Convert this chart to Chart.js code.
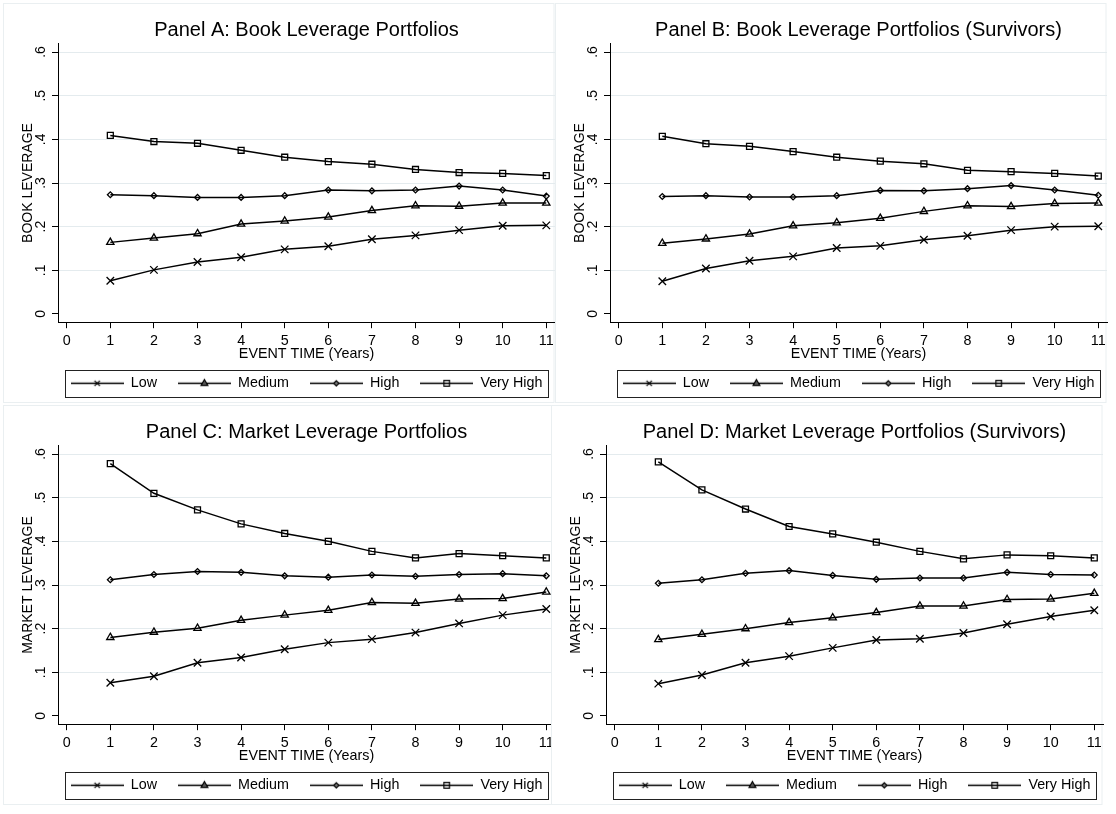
<!DOCTYPE html>
<html>
<head>
<meta charset="utf-8">
<title>Leverage portfolios in event time</title>
<script src="https://cdn.jsdelivr.net/npm/chart.js@4.4.1/dist/chart.umd.min.js"></script>
<style>
  html, body { margin: 0; padding: 0; background: #fff; }
  #fig { position: relative; width: 1116px; height: 814px; overflow: hidden; background: #fff; }
  .panel { position: absolute; height: 405px; overflow: hidden; }
  .panel canvas { display: block; }
</style>
</head>
<body>
<div id="fig">
  <div class="panel" style="left:0px;top:0px;width:556px"><canvas id="cA" width="556" height="405"></canvas></div>
  <div class="panel" style="left:0px;top:402px;width:551px"><canvas id="cC" width="556" height="405"></canvas></div>
  <div class="panel" style="left:552px;top:0px;width:556px"><canvas id="cB" width="556" height="405"></canvas></div>
  <div class="panel" style="left:548px;top:402px;width:556px"><canvas id="cD" width="556" height="405"></canvas></div>
</div>
<script>
// ---- data -------------------------------------------------------------
const years = [1, 2, 3, 4, 5, 6, 7, 8, 9, 10, 11];
const seriesNames = ['Low', 'Medium', 'High', 'Very High'];
const xTickValues = [0, 1, 2, 3, 4, 5, 6, 7, 8, 9, 10, 11];
const yTickValues = [0, 0.1, 0.2, 0.3, 0.4, 0.5, 0.6];
const yTickLabels = ['0', '.1', '.2', '.3', '.4', '.5', '.6'];
const xAxisTitle = 'EVENT TIME (Years)';

// Panel A: book leverage portfolios
const bookLow      = [0.076, 0.101, 0.119, 0.130, 0.148, 0.155, 0.171, 0.180, 0.192, 0.202, 0.203];
const bookMedium   = [0.164, 0.174, 0.184, 0.206, 0.213, 0.222, 0.237, 0.248, 0.247, 0.254, 0.254];
const bookHigh     = [0.273, 0.271, 0.267, 0.267, 0.271, 0.284, 0.282, 0.284, 0.293, 0.284, 0.270];
const bookVeryHigh = [0.409, 0.395, 0.391, 0.375, 0.359, 0.349, 0.343, 0.331, 0.324, 0.322, 0.317];

// Panel B: book leverage portfolios, survivors
const bookSurvLow      = [0.075, 0.104, 0.122, 0.132, 0.151, 0.156, 0.170, 0.179, 0.192, 0.200, 0.201];
const bookSurvMedium   = [0.162, 0.172, 0.183, 0.202, 0.209, 0.219, 0.235, 0.248, 0.246, 0.253, 0.254];
const bookSurvHigh     = [0.269, 0.271, 0.268, 0.268, 0.271, 0.283, 0.282, 0.287, 0.294, 0.284, 0.272];
const bookSurvVeryHigh = [0.407, 0.390, 0.384, 0.372, 0.359, 0.350, 0.344, 0.329, 0.326, 0.322, 0.316];

// Panel C: market leverage portfolios
const mktLow      = [0.076, 0.091, 0.122, 0.134, 0.153, 0.168, 0.176, 0.191, 0.212, 0.231, 0.245];
const mktMedium   = [0.180, 0.192, 0.201, 0.219, 0.231, 0.242, 0.260, 0.258, 0.268, 0.269, 0.284];
const mktHigh     = [0.312, 0.324, 0.331, 0.329, 0.321, 0.318, 0.323, 0.320, 0.324, 0.326, 0.321];
const mktVeryHigh = [0.578, 0.510, 0.472, 0.440, 0.418, 0.400, 0.377, 0.362, 0.372, 0.367, 0.362];

// Panel D: market leverage portfolios, survivors
const mktSurvLow      = [0.074, 0.094, 0.122, 0.137, 0.156, 0.174, 0.177, 0.190, 0.210, 0.228, 0.242];
const mktSurvMedium   = [0.175, 0.187, 0.200, 0.214, 0.225, 0.237, 0.252, 0.252, 0.267, 0.268, 0.281];
const mktSurvHigh     = [0.304, 0.312, 0.327, 0.333, 0.322, 0.313, 0.316, 0.316, 0.329, 0.324, 0.323];
const mktSurvVeryHigh = [0.582, 0.518, 0.474, 0.434, 0.417, 0.398, 0.377, 0.360, 0.369, 0.367, 0.362];

// ---- styling ----------------------------------------------------------
const FONT = "'Liberation Sans', Arial, Helvetica, sans-serif";
const INK = '#000';
const GRID = '#e4ebee';
const markerStyles = ['crossRot', 'triangle', 'rectRot', 'rect'];
const markerRadii = [5.3, 4.2, 2.9, 4.2];
const LEGEND_GAP = '    '; // spacing after each legend entry except the last

// Small legend swatch: a line segment with the series marker in the middle
function legendSwatch(kind) {
  const w = 53, h = 15, cx = 26.5, cy = 7.5;
  const c = document.createElement('canvas');
  c.width = w; c.height = h;
  const g = c.getContext('2d');
  g.strokeStyle = INK; g.lineWidth = 1.4;
  g.beginPath(); g.moveTo(0, cy); g.lineTo(w, cy); g.stroke();
  g.lineWidth = 1.2;
  g.beginPath();
  if (kind === 'crossRot') {
    const s = 2.7;
    g.moveTo(cx - s, cy - s); g.lineTo(cx + s, cy + s);
    g.moveTo(cx - s, cy + s); g.lineTo(cx + s, cy - s);
    g.stroke();
  } else if (kind === 'triangle') {
    g.moveTo(cx, cy - 3.8); g.lineTo(cx + 3.4, cy + 2.2); g.lineTo(cx - 3.4, cy + 2.2); g.closePath();
    g.fillStyle = '#555'; g.fill(); g.stroke();
  } else if (kind === 'rectRot') {
    g.moveTo(cx, cy - 2.6); g.lineTo(cx + 2.6, cy); g.lineTo(cx, cy + 2.6); g.lineTo(cx - 2.6, cy); g.closePath();
    g.fillStyle = '#777'; g.fill(); g.stroke();
  } else {
    g.rect(cx - 2.8, cy - 2.8, 5.6, 5.6); g.stroke();
  }
  return c;
}
const legendSwatches = markerStyles.map(legendSwatch);

// Faint outline of each graph region
const panelFrame = {
  id: 'panelFrame',
  beforeDraw(chart) {
    const ctx = chart.ctx;
    ctx.save();
    ctx.strokeStyle = '#eaeff1';
    ctx.lineWidth = 1;
    ctx.strokeRect(3.5, 3.5, 550.5, 399);
    ctx.restore();
  }
};

// Box drawn around the legend entries
const legendFrame = {
  id: 'legendFrame',
  afterDraw(chart) {
    const lg = chart.legend;
    if (!lg || !lg.legendHitBoxes || !lg.legendHitBoxes.length) return;
    const hb = lg.legendHitBoxes;
    const first = hb[0], last = hb[hb.length - 1];
    const left = Math.round(first.left - 5.5) + 0.5;
    const right = Math.round(last.left + last.width + 6) + 0.5;
    const cy = first.top + first.height / 2;
    const top = Math.round(cy - 13.5) + 0.5;
    const bottom = Math.round(cy + 13.5) + 0.5;
    const ctx = chart.ctx;
    ctx.save();
    ctx.strokeStyle = '#222';
    ctx.lineWidth = 1;
    ctx.strokeRect(left, top, right - left, bottom - top);
    ctx.restore();
  }
};

function makePanel(canvasId, title, yTitle, series) {
  const datasets = series.map((vals, i) => ({
    label: seriesNames[i],
    data: years.map((x, k) => ({ x: x, y: vals[k] })),
    borderColor: INK,
    borderWidth: 1.5,
    backgroundColor: 'rgba(0,0,0,0)',
    fill: false,
    tension: 0,
    pointStyle: markerStyles[i],
    pointRadius: markerRadii[i],
    pointHoverRadius: markerRadii[i],
    pointBorderColor: INK,
    pointBackgroundColor: 'rgba(0,0,0,0)',
    pointBorderWidth: 1.3,
    clip: false
  }));

  return new Chart(document.getElementById(canvasId), {
    type: 'line',
    data: { datasets },
    plugins: [panelFrame, legendFrame],
    options: {
      responsive: false,
      animation: false,
      events: [],
      devicePixelRatio: 1,
      layout: { autoPadding: false, padding: { top: 0, left: 0, right: 1, bottom: 4.55 } },
      scales: {
        x: {
          type: 'linear',
          min: -0.2,
          max: 11.2,
          afterBuildTicks: s => { s.ticks = xTickValues.map(v => ({ value: v })); },
          afterFit: s => { s.height = 48.45; s.paddingLeft = 0; s.paddingRight = 0; },
          ticks: {
            autoSkip: false, minRotation: 0, maxRotation: 0, padding: 3.9,
            color: INK, font: { family: FONT, size: 14.3 },
            callback: (v, i) => String(xTickValues[i])
          },
          grid: { drawOnChartArea: false, drawTicks: true, tickLength: 5.5, tickColor: INK, tickWidth: 1 },
          border: { display: true, color: INK, width: 1 },
          title: {
            display: true, text: xAxisTitle, color: INK,
            font: { family: FONT, size: 14.3 }, padding: { top: 0, bottom: 8.2 }
          }
        },
        y: {
          type: 'linear',
          min: -0.02,
          max: 0.62,
          afterBuildTicks: s => { s.ticks = yTickValues.map(v => ({ value: v })); },
          afterFit: s => { s.width = 58; s.paddingTop = 0; s.paddingBottom = 0; },
          ticks: {
            autoSkip: false, minRotation: 90, maxRotation: 90, crossAlign: 'center', padding: 5.2,
            color: INK, font: { family: FONT, size: 14 },
            callback: (v, i) => yTickLabels[i]
          },
          grid: {
            drawOnChartArea: true, drawTicks: true, tickLength: 6, tickColor: INK, tickWidth: 1,
            lineWidth: 1,
            color: c => (c.tick && c.tick.value === 0) ? 'rgba(0,0,0,0)' : GRID
          },
          border: { display: true, color: INK, width: 1 },
          title: {
            display: true, text: yTitle, color: INK,
            font: { family: FONT, size: 14 }, padding: { top: 19.8, bottom: 0 }
          }
        }
      },
      plugins: {
        tooltip: { enabled: false },
        title: {
          display: true, text: title, color: INK, fullSize: false,
          font: { family: FONT, size: 20, weight: 'normal' },
          padding: { top: 18.3, bottom: 1.0 }
        },
        legend: {
          display: true, position: 'bottom', align: 'center', fullSize: false,
          labels: {
            usePointStyle: true, pointStyleWidth: 53, padding: 5,
            color: INK, font: { family: FONT, size: 14.3 },
            generateLabels: chart => chart.data.datasets.map((ds, i, all) => ({
              text: i < all.length - 1 ? ds.label + LEGEND_GAP : ds.label,
              datasetIndex: i,
              pointStyle: legendSwatches[i],
              fillStyle: 'rgba(0,0,0,0)',
              strokeStyle: INK,
              lineWidth: 0,
              fontColor: INK,
              hidden: false
            }))
          }
        }
      }
    }
  });
}

makePanel('cA', 'Panel A: Book Leverage Portfolios', 'BOOK LEVERAGE',
  [bookLow, bookMedium, bookHigh, bookVeryHigh]);
makePanel('cB', 'Panel B: Book Leverage Portfolios (Survivors)', 'BOOK LEVERAGE',
  [bookSurvLow, bookSurvMedium, bookSurvHigh, bookSurvVeryHigh]);
makePanel('cC', 'Panel C: Market Leverage Portfolios', 'MARKET LEVERAGE',
  [mktLow, mktMedium, mktHigh, mktVeryHigh]);
makePanel('cD', 'Panel D: Market Leverage Portfolios (Survivors)', 'MARKET LEVERAGE',
  [mktSurvLow, mktSurvMedium, mktSurvHigh, mktSurvVeryHigh]);
</script>
</body>
</html>
